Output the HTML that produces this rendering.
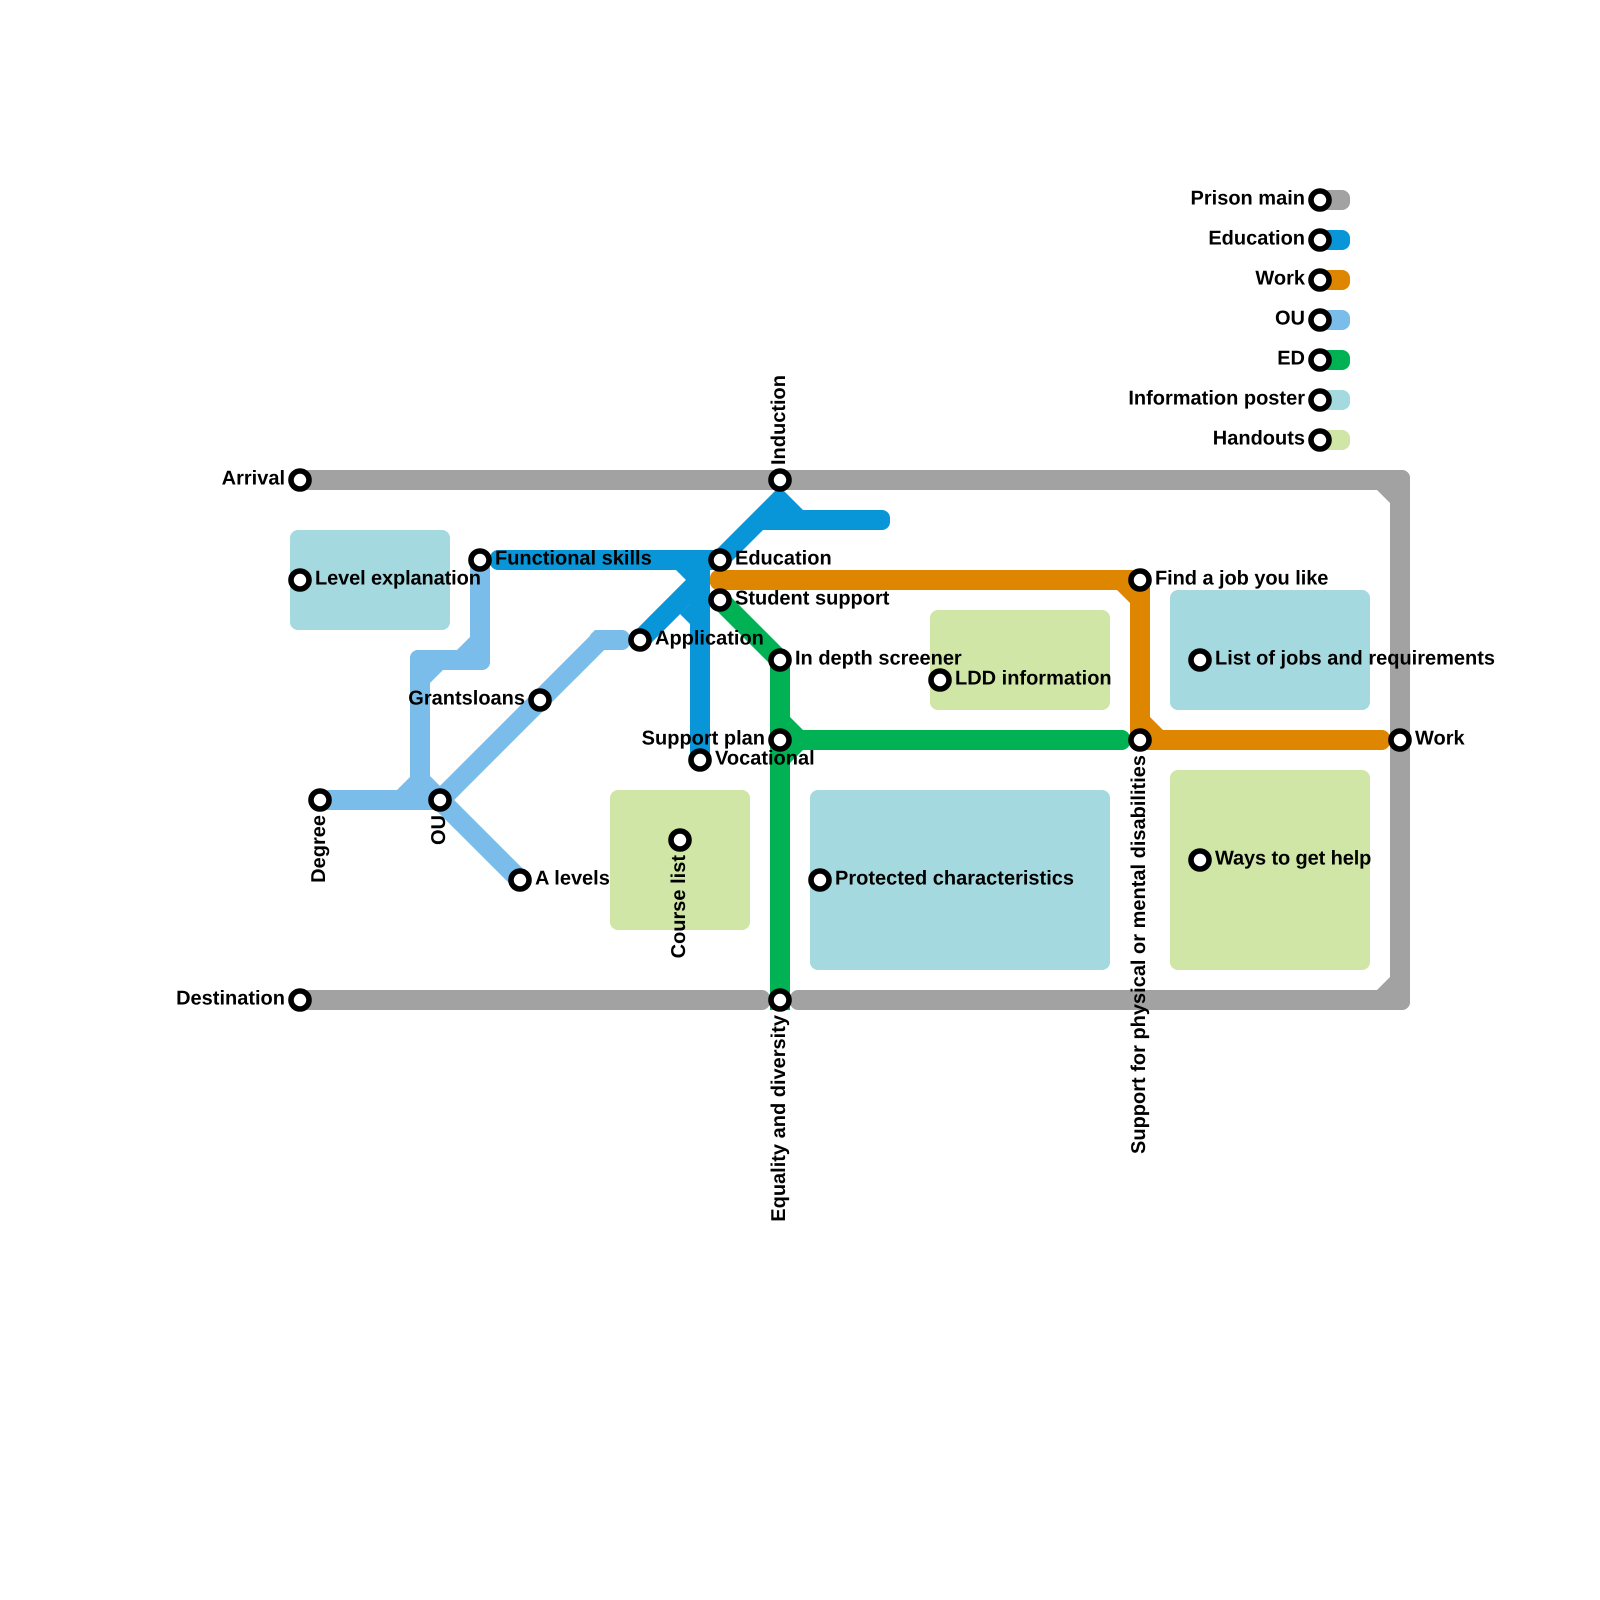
<!DOCTYPE html>
<html>
<head>
<meta charset="utf-8">
<style>
html,body{margin:0;padding:0;background:#fff}
svg{display:block}
text{font-family:"Liberation Sans",sans-serif;font-weight:bold;font-size:20px;fill:#000;text-rendering:geometricPrecision}
.s{fill:#fff;stroke:#000;stroke-width:5.6}
.e{text-anchor:end}
</style>
</head>
<body>
<svg width="1600" height="1600" viewBox="0 0 1600 1600" xmlns="http://www.w3.org/2000/svg">
<rect width="1600" height="1600" fill="#fff"/>
<!-- areas -->
<g fill="#a4d9df">
<rect x="290" y="530" width="160" height="100" rx="8"/>
<rect x="810" y="790" width="300" height="180" rx="8"/>
<rect x="1170" y="590" width="200" height="120" rx="8"/>
</g>
<g fill="#d0e6a6">
<rect x="610" y="790" width="140" height="140" rx="8"/>
<rect x="930" y="610" width="180" height="100" rx="8"/>
<rect x="1170" y="770" width="200" height="200" rx="8"/>
</g>
<!-- prison main -->
<g fill="#a2a2a2">
<rect x="300" y="470" width="1110" height="20" rx="8"/>
<rect x="1390" y="470" width="20" height="540" rx="8"/>
<rect x="300" y="990" width="470" height="20" rx="8"/>
<rect x="790" y="990" width="620" height="20" rx="8"/>
<polygon points="1376,489 1391,489 1391,504"/>
<polygon points="1376,991 1391,991 1391,976"/>
</g>
<!-- OU -->
<g fill="#7abdea">
<rect x="470" y="560" width="20" height="110" rx="8"/>
<rect x="410" y="650" width="80" height="20" rx="8"/>
<rect x="410" y="650" width="20" height="160" rx="8"/>
<rect x="320" y="790" width="120" height="20" rx="8"/>
<rect x="600" y="630" width="30" height="20" rx="8"/>
<polygon points="590,635 595,630 610,630 610,650 604,650"/>
<polygon points="456,651 471,651 471,636"/>
<polygon points="429,684 429,669 444,669"/>
<polygon points="396,791 411,791 411,776"/>
<polygon points="429,775 429,792 446,792"/>
</g>
<g stroke="#7abdea" stroke-width="20" fill="none">
<path d="M433 807 L600 640"/>
<path d="M433 793 L520 880"/>
</g>
<!-- Education -->
<g fill="#0996d8">
<rect x="490" y="550" width="230" height="20" rx="8"/>
<rect x="690" y="550" width="20" height="220" rx="8"/>
<rect x="770" y="510" width="120" height="20" rx="8"/>
<polygon points="711,555 776,490 783,490 804,511 800,530 763,530 725,568"/>
<polygon points="675,569 691,569 691,585"/>
<polygon points="680,614 691,603 691,625"/>
</g>
<path d="M640 640 L706 574" stroke="#0996d8" stroke-width="20" fill="none"/>
<!-- Work -->
<g fill="#de8600">
<rect x="710" y="570" width="440" height="20" rx="8"/>
<rect x="1130" y="570" width="20" height="180" rx="8"/>
<rect x="1130" y="730" width="260" height="20" rx="8"/>
<polygon points="1116,589 1131,589 1131,604"/>
<polygon points="1149,716 1149,731 1164,731"/>
</g>
<!-- ED -->
<g fill="#00b253">
<rect x="770" y="660" width="20" height="350"/>
<rect x="780" y="730" width="350" height="20" rx="8"/>
<polygon points="789,716 789,731 804,731"/>
<polygon points="789,764 789,749 804,749"/>
<polygon points="713,607 727,593 790,656 790,670 770,670 770,664"/>
</g>
<!-- legend lines -->
<rect x="1320" y="190" width="30" height="20" rx="8" fill="#a2a2a2"/>
<rect x="1320" y="230" width="30" height="20" rx="8" fill="#0996d8"/>
<rect x="1320" y="270" width="30" height="20" rx="8" fill="#de8600"/>
<rect x="1320" y="310" width="30" height="20" rx="8" fill="#7abdea"/>
<rect x="1320" y="350" width="30" height="20" rx="8" fill="#00b253"/>
<rect x="1320" y="390" width="30" height="20" rx="8" fill="#a4d9df"/>
<rect x="1320" y="430" width="30" height="20" rx="8" fill="#d0e6a6"/>
<!-- stations -->
<g class="st">
<circle class="s" cx="300" cy="480" r="9"/>
<circle class="s" cx="300" cy="580" r="9"/>
<circle class="s" cx="300" cy="1000" r="9"/>
<circle class="s" cx="480" cy="560" r="9"/>
<circle class="s" cx="540" cy="700" r="9"/>
<circle class="s" cx="320" cy="800" r="9"/>
<circle class="s" cx="440" cy="800" r="9"/>
<circle class="s" cx="520" cy="880" r="9"/>
<circle class="s" cx="640" cy="640" r="9"/>
<circle class="s" cx="680" cy="840" r="9"/>
<circle class="s" cx="700" cy="760" r="9"/>
<circle class="s" cx="720" cy="560" r="9"/>
<circle class="s" cx="720" cy="600" r="9"/>
<circle class="s" cx="780" cy="480" r="9"/>
<circle class="s" cx="780" cy="660" r="9"/>
<circle class="s" cx="780" cy="740" r="9"/>
<circle class="s" cx="780" cy="1000" r="9"/>
<circle class="s" cx="820" cy="880" r="9"/>
<circle class="s" cx="940" cy="680" r="9"/>
<circle class="s" cx="1140" cy="580" r="9"/>
<circle class="s" cx="1140" cy="740" r="9"/>
<circle class="s" cx="1200" cy="660" r="9"/>
<circle class="s" cx="1200" cy="860" r="9"/>
<circle class="s" cx="1400" cy="740" r="9"/>
<circle class="s" cx="1320" cy="200" r="9"/>
<circle class="s" cx="1320" cy="240" r="9"/>
<circle class="s" cx="1320" cy="280" r="9"/>
<circle class="s" cx="1320" cy="320" r="9"/>
<circle class="s" cx="1320" cy="360" r="9"/>
<circle class="s" cx="1320" cy="400" r="9"/>
<circle class="s" cx="1320" cy="440" r="9"/>
</g>
<!-- labels -->
<text class="e" x="285" y="484.5">Arrival</text>
<text x="315" y="584.5" style="letter-spacing:-.12px">Level explanation</text>
<text class="e" x="285" y="1004.5">Destination</text>
<text x="495" y="564.5">Functional skills</text>
<text class="e" x="525" y="704.5">Grantsloans</text>
<text x="535" y="884.5">A levels</text>
<text x="655" y="644.5">Application</text>
<text x="715" y="764.5">Vocational</text>
<text x="735" y="564.5">Education</text>
<text x="735" y="604.5">Student support</text>
<text x="795" y="664.5">In depth screener</text>
<text class="e" x="765" y="744.5">Support plan</text>
<text x="835" y="884.5">Protected characteristics</text>
<text x="955" y="684.5">LDD information</text>
<text x="1155" y="584.5" style="letter-spacing:-.06px">Find a job you like</text>
<text x="1215" y="664.5">List of jobs and requirements</text>
<text x="1215" y="864.5" style="letter-spacing:-.12px">Ways to get help</text>
<text x="1415" y="744.5">Work</text>
<text class="e" x="1305" y="204.5">Prison main</text>
<text class="e" x="1305" y="244.5">Education</text>
<text class="e" x="1305" y="284.5">Work</text>
<text class="e" x="1305" y="324.5">OU</text>
<text class="e" x="1305" y="364.5">ED</text>
<text class="e" x="1305" y="404.5">Information poster</text>
<text class="e" x="1305" y="444.5">Handouts</text>
<text transform="translate(785,465) rotate(-90)">Induction</text>
<text class="e" transform="translate(325,815) rotate(-90)">Degree</text>
<text class="e" transform="translate(445,815) rotate(-90)">OU</text>
<text class="e" transform="translate(685,855) rotate(-90)">Course list</text>
<text class="e" transform="translate(785,1015) rotate(-90)">Equality and diversity</text>
<text class="e" transform="translate(1145,755) rotate(-90)">Support for physical or mental disabilities</text>
</svg>
</body>
</html>
